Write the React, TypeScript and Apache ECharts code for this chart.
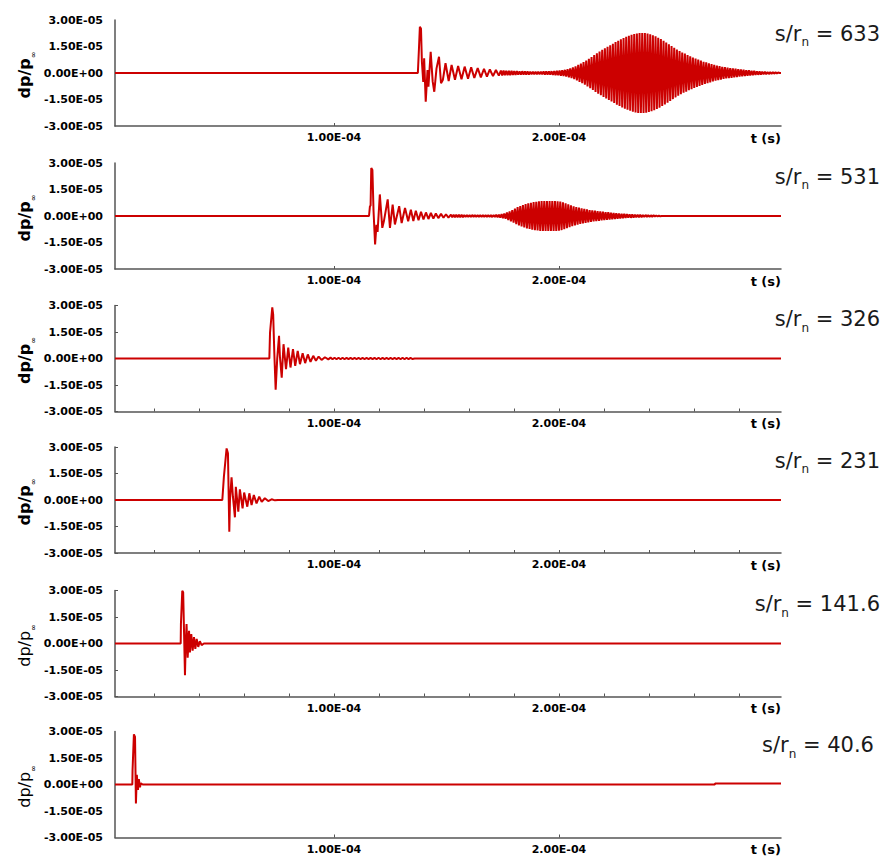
import React, { useEffect, useRef } from "react";
import * as echarts from "echarts";

// ---------- data (time in microseconds, dp/p in units of 1e-5) ----------
const yTickLabels = ["-3.00E-05", "-1.50E-05", "0.00E+00", "1.50E-05", "3.00E-05"];
const xLabelValues = [1e-4, 2e-4];
const xTickLabels = ["1.00E-04", "2.00E-04"];
const xMinorTickValues = [2e-5, 4e-5, 6e-5, 8e-5, 1e-4, 1.2e-4, 1.4e-4, 1.6e-4, 1.8e-4, 2e-4, 2.2e-4, 2.4e-4, 2.6e-4, 2.8e-4];
const panelLabels = ["633", "531", "326", "231", "141.6", "40.6"];
const T_MIN_US = 2.7;
const T_MAX_US = 298.7;

const p1Burst: [number, number][] = [
  [137.3, 0], [137.8, 1.4], [138.2, 2.62], [138.7, 2.5], [139.1, 0.64], [139.7, -0.5], [140.1, 0.83],
  [140.8, -1.62], [141.6, 0.17], [142.0, -0.77], [143.0, 1.2], [143.9, -0.49], [144.6, -1.06], [145.6, 0.26],
  [146.7, 0.92], [147.6, -0.58], [148.4, -0.4], [149.6, 0.55], [151.0, -0.45], [152.3, 0.45], [153.8, -0.38],
  [155.2, 0.4], [156.7, -0.36], [158.1, 0.36], [159.6, -0.32], [161.0, 0.32], [162.4, -0.28], [163.9, 0.28],
  [165.3, -0.25], [166.7, 0.24], [168.0, -0.21], [169.3, 0.2], [170.7, -0.18], [172.0, 0.17], [173.3, -0.15],
];
const p1TailStart = 174.2;
const p1TailStep = 0.5926;
const p1Tail = [
  0.14, -0.14, 0.14, -0.13, 0.13, -0.13, 0.12, -0.12, 0.12, -0.11,
  0.11, -0.11, 0.11, -0.1, 0.1, -0.1, 0.1, -0.09, 0.09, -0.09,
  0.09, -0.09, 0.08, -0.08, 0.08, -0.08, 0.08, -0.08, 0.08, -0.08,
  0.08, -0.08, 0.09, -0.09, 0.09, -0.09, 0.09, -0.09, 0.1, -0.11,
  0.11, -0.12, 0.12, -0.13, 0.14, -0.15, 0.16, -0.17, 0.18, -0.2,
  0.22, -0.24, 0.26, -0.29, 0.32, -0.35, 0.38, -0.42, 0.46, -0.5,
  0.53, -0.57, 0.62, -0.66, 0.71, -0.76, 0.8, -0.86, 0.91, -0.96,
  1.01, -1.07, 1.12, -1.17, 1.22, -1.26, 1.31, -1.36, 1.4, -1.44,
  1.49, -1.53, 1.57, -1.61, 1.66, -1.7, 1.75, -1.79, 1.83, -1.87,
  1.91, -1.95, 1.98, -2.02, 2.05, -2.08, 2.11, -2.14, 2.16, -2.19,
  2.21, -2.23, 2.24, -2.26, 2.27, -2.27, 2.27, -2.27, 2.26, -2.25,
  2.23, -2.21, 2.19, -2.17, 2.14, -2.11, 2.08, -2.04, 2.0, -1.96,
  1.92, -1.87, 1.83, -1.78, 1.73, -1.68, 1.63, -1.58, 1.53, -1.48,
  1.43, -1.38, 1.33, -1.29, 1.24, -1.2, 1.16, -1.12, 1.1, -1.06,
  1.02, -0.98, 0.95, -0.92, 0.88, -0.85, 0.82, -0.79, 0.76, -0.73,
  0.7, -0.67, 0.64, -0.62, 0.6, -0.57, 0.55, -0.53, 0.51, -0.48,
  0.46, -0.44, 0.42, -0.4, 0.39, -0.37, 0.35, -0.34, 0.33, -0.31,
  0.3, -0.29, 0.28, -0.27, 0.26, -0.25, 0.24, -0.23, 0.22, -0.2,
  0.2, -0.19, 0.18, -0.17, 0.16, -0.15, 0.15, -0.14, 0.13, -0.12,
  0.12, -0.11, 0.1, -0.1, 0.09, -0.09, 0.08, -0.08, 0.07, -0.07,
  0.06, -0.06, 0.05, -0.05, 0.05, -0.04, 0.04, -0.03, 0.03,
];

const p2Burst: [number, number][] = [
  [115.6, 0], [116.0, 0.55], [116.3, 0.6], [116.6, 2.72], [117.1, 2.6], [117.6, 0.3], [118.3, -1.61], [118.9, -0.5],
  [119.4, -0.9], [120.4, 1.22], [121.5, -0.67], [122.2, -0.3], [123.9, 0.94], [124.9, -0.67], [126.1, 0.65],
  [127.1, -0.48], [129.0, 0.56], [130.1, -0.4], [131.6, 0.45], [133.0, -0.3], [134.2, 0.35], [135.3, -0.28],
  [136.4, 0.3], [137.6, -0.24], [138.7, 0.24], [139.8, -0.2], [140.9, 0.2], [142.0, -0.17], [143.1, 0.17],
  [144.2, -0.15], [145.3, 0.14], [146.4, -0.12], [147.6, 0.12], [148.7, -0.1], [149.8, 0.1], [150.9, -0.09],
];
const p2TailStart = 152.0;
const p2TailStep = 0.5926;
const p2Tail = [
  0.08, -0.08, 0.08, -0.08, 0.07, -0.07, 0.07, -0.07, 0.07, -0.07,
  0.06, -0.06, 0.06, -0.06, 0.06, -0.06, 0.06, -0.05, 0.05, -0.05,
  0.05, -0.05, 0.05, -0.05, 0.05, -0.05, 0.05, -0.05, 0.05, -0.05,
  0.05, -0.06, 0.06, -0.06, 0.07, -0.08, 0.08, -0.09, 0.11, -0.12,
  0.14, -0.16, 0.2, -0.23, 0.26, -0.3, 0.34, -0.38, 0.42, -0.46,
  0.5, -0.53, 0.56, -0.59, 0.62, -0.65, 0.67, -0.7, 0.72, -0.74,
  0.75, -0.77, 0.79, -0.8, 0.81, -0.82, 0.83, -0.84, 0.84, -0.84,
  0.85, -0.85, 0.85, -0.85, 0.85, -0.85, 0.85, -0.84, 0.84, -0.84,
  0.83, -0.83, 0.82, -0.8, 0.77, -0.75, 0.72, -0.69, 0.66, -0.64,
  0.61, -0.58, 0.55, -0.53, 0.51, -0.49, 0.47, -0.45, 0.44, -0.42,
  0.4, -0.39, 0.37, -0.36, 0.34, -0.33, 0.32, -0.31, 0.3, -0.29,
  0.28, -0.27, 0.26, -0.25, 0.24, -0.23, 0.22, -0.22, 0.21, -0.2,
  0.19, -0.18, 0.17, -0.17, 0.16, -0.15, 0.14, -0.14, 0.13, -0.12,
  0.12, -0.11, 0.11, -0.1, 0.1, -0.1, 0.09, -0.09, 0.08, -0.08,
  0.08, -0.07, 0.07, -0.07, 0.06, -0.06, 0.06, -0.05, 0.05, -0.05,
  0.04, -0.04, 0.04, -0.03, 0.03, -0.03, 0.02, -0.02,
];

const p3Burst: [number, number][] = [
  [71.3, 0], [71.6, 1.47], [72.6, 2.89], [73.0, 2.5], [73.5, 0.34], [74.1, -1.77], [74.8, 0], [75.6, 1.28], [76.0, 0.1],
  [76.8, -1.08], [77.6, 0.81], [78.7, -0.6], [79.7, 0.62], [80.7, -0.51], [81.8, 0.53], [82.8, -0.42], [83.9, 0.43],
  [84.9, -0.32], [86.1, 0.3], [87.2, -0.26], [88.4, 0.23], [89.6, -0.19], [90.8, 0.15], [92.0, -0.13], [93.2, 0.11],
  [94.5, -0.08], [96.0, 0.07], [97.5, -0.05],
];
const p3TailStart = 98.5;
const p3TailStep = 0.889;
const p3Tail = [
  0.05, -0.04, 0.04, -0.04, 0.04, -0.04, 0.04, -0.04, 0.04, -0.03, 0.04, -0.03, 0.03, -0.03, 0.03, -0.03, 0.03, -0.03, 0.03, -0.03,
  0.04, -0.03, 0.04, -0.04, 0.04, -0.04, 0.04, -0.03, 0.03, -0.03, 0.03, -0.03, 0.03, -0.03, 0.04, -0.04, 0.04, -0.04, 0.04, -0.04,
  0.03, -0.03,
];

const p4Burst: [number, number][] = [
  [50.4, 0], [51.1, 1.32], [52.3, 2.92], [52.9, 2.64], [53.5, -1.79], [53.8, 0], [54.5, 1.28], [55.1, 0.2], [56.0, -0.98],
  [56.4, 0.75], [57.5, -0.66], [58.2, 0.6], [59.4, -0.47], [60.1, 0.42], [61.5, -0.38], [62.4, 0.38], [63.4, -0.28],
  [64.4, 0.28], [65.6, -0.19], [66.8, 0.19], [67.9, -0.11], [69.3, 0.1], [70.8, -0.06], [72.3, 0.04], [73.8, -0.02], [75.1, 0],
];

const p5Burst: [number, number][] = [
  [31.9, 0], [32.0, 1.1], [32.6, 2.98], [33.0, 2.9], [33.8, -1.79], [34.1, -0.2], [34.5, 1.1], [35.0, -0.8], [35.6, 0.72],
  [36.0, -0.5], [36.6, 0.53], [37.2, -0.4], [37.8, 0.36], [38.4, -0.3], [39.0, 0.26], [39.7, -0.19], [40.4, 0.13],
  [41.2, -0.09], [42.2, 0],
];

const p6Burst: [number, number][] = [
  [10.4, 0], [10.5, 0.8], [11.1, 2.84], [11.6, 2.7], [12.0, -1.08], [12.3, 0.1], [12.4, 0.55], [12.9, -0.3], [13.3, 0.3],
  [13.8, -0.15], [14.2, 0.07], [15.0, 0],
];
const p6Late: [number, number][] = [[269.3, 0], [269.4, 0.06], [298.7, 0.06]];

// ---------- layout / style ----------
const PANEL_TOPS = [20, 163, 305.5, 447, 590.5, 731.5];
const PANEL_H = 106;
const GRID_LEFT = 115;
const GRID_W = 666;
const LINE_RED = "#cc0000";
const AXIS_GRAY = "#555555";
const FONT = "DejaVu Sans";

type Panel = {
  burst: [number, number][];
  tailStart: number;
  tailStep: number;
  tail: number[];
  late: [number, number][];
  minorTicks: boolean;
  nameBold: boolean;
  labelRight: number;
};

const panels: Panel[] = [
  { burst: p1Burst, tailStart: p1TailStart, tailStep: p1TailStep, tail: p1Tail, late: [], minorTicks: false, nameBold: true, labelRight: 880 },
  { burst: p2Burst, tailStart: p2TailStart, tailStep: p2TailStep, tail: p2Tail, late: [], minorTicks: false, nameBold: true, labelRight: 880 },
  { burst: p3Burst, tailStart: p3TailStart, tailStep: p3TailStep, tail: p3Tail, late: [], minorTicks: true, nameBold: true, labelRight: 880 },
  { burst: p4Burst, tailStart: 0, tailStep: 1, tail: [], late: [], minorTicks: true, nameBold: true, labelRight: 880 },
  { burst: p5Burst, tailStart: 0, tailStep: 1, tail: [], late: [], minorTicks: true, nameBold: false, labelRight: 880 },
  { burst: p6Burst, tailStart: 0, tailStep: 1, tail: [], late: p6Late, minorTicks: false, nameBold: false, labelRight: 874 },
];

function buildPoints(p: Panel): [number, number][] {
  const pts: [number, number][] = [[T_MIN_US, 0], ...p.burst];
  p.tail.forEach((v, i) => pts.push([p.tailStart + i * p.tailStep, v]));
  if (p.tail.length) pts.push([p.tailStart + p.tail.length * p.tailStep, 0]);
  p.late.forEach((q) => pts.push(q));
  if (pts[pts.length - 1][0] < T_MAX_US) pts.push([T_MAX_US, 0]);
  return pts.map(([t, v]) => [t * 1e-6, v * 1e-5]);
}

function buildOption(): echarts.EChartsOption {
  const grid: any[] = [];
  const xAxis: any[] = [];
  const yAxis: any[] = [];
  const series: any[] = [];
  const graphic: any[] = [];

  panels.forEach((p, i) => {
    const top = PANEL_TOPS[i];
    grid.push({ left: GRID_LEFT, top, width: GRID_W, height: PANEL_H, containLabel: false });
    xAxis.push({
      type: "value",
      gridIndex: i,
      min: T_MIN_US * 1e-6,
      max: T_MAX_US * 1e-6,
      splitLine: { show: false },
      axisLine: { show: true, onZero: false, lineStyle: { color: AXIS_GRAY, width: 1.5 } },
      axisTick: {
        show: true,
        inside: true,
        length: 3,
        customValues: p.minorTicks ? xMinorTickValues : xLabelValues,
        lineStyle: { color: AXIS_GRAY, width: 1 },
      },
      axisLabel: {
        customValues: xLabelValues,
        formatter: (v: number) => xTickLabels[Math.round(v / 1e-4) - 1] ?? "",
        margin: 6,
        fontFamily: FONT,
        fontWeight: "bold",
        fontSize: 11,
        color: "#000",
      },
    });
    yAxis.push({
      type: "value",
      gridIndex: i,
      min: -3e-5,
      max: 3e-5,
      interval: 1.5e-5,
      splitLine: { show: false },
      axisLine: { show: true, lineStyle: { color: AXIS_GRAY, width: 1.5 } },
      axisTick: { show: p.minorTicks, inside: true, length: 3, lineStyle: { color: AXIS_GRAY, width: 1 } },
      axisLabel: {
        formatter: (v: number) => yTickLabels[Math.round(v / 1.5e-5) + 2] ?? "",
        margin: 12,
        fontFamily: FONT,
        fontWeight: "bold",
        fontSize: 11,
        color: "#000",
      },
    });
    series.push({
      type: "line",
      xAxisIndex: i,
      yAxisIndex: i,
      data: buildPoints(p),
      showSymbol: false,
      symbol: "none",
      silent: true,
      lineStyle: { color: LINE_RED, width: 2 },
    });

    // y-axis title dp/p∞
    graphic.push({
      type: "text",
      x: 26,
      y: top + 55,
      rotation: Math.PI / 2,
      silent: true,
      style: {
        text: "{m|dp/p}{s|∞}",
        align: "center",
        verticalAlign: "middle",
        fill: "#000",
        rich: {
          m: { fontFamily: FONT, fontSize: 16, fontWeight: p.nameBold ? "bold" : "normal", lineHeight: 20, verticalAlign: "top", fill: "#000" },
          s: { fontFamily: FONT, fontSize: 8, lineHeight: 8, verticalAlign: "top", padding: [13, 0, 0, 0], fill: "#000" },
        },
      },
    });
    // x-axis title
    graphic.push({
      type: "text",
      x: GRID_LEFT + GRID_W,
      y: top + PANEL_H + 12,
      silent: true,
      style: { text: "t (s)", fontFamily: FONT, fontSize: 13, fontWeight: "bold", fill: "#000", align: "right", verticalAlign: "middle" },
    });
    // s/r_n label
    graphic.push({
      type: "text",
      x: p.labelRight,
      y: top + 15,
      silent: true,
      style: {
        text: "{m|s/r}{sub|n}{m| = " + panelLabels[i] + "}",
        align: "right",
        verticalAlign: "middle",
        fill: "#1a1a1a",
        rich: {
          m: { fontFamily: FONT, fontSize: 21, lineHeight: 24, verticalAlign: "top", fill: "#1a1a1a" },
          sub: { fontFamily: FONT, fontSize: 12, lineHeight: 12, verticalAlign: "top", padding: [13, 0, 0, 0], fill: "#1a1a1a" },
        },
      },
    });
  });

  return { animation: false, backgroundColor: "#ffffff", grid, xAxis, yAxis, series, graphic };
}

export default function App() {
  const ref = useRef<HTMLDivElement>(null);
  useEffect(() => {
    if (!ref.current) return;
    const chart = echarts.init(ref.current, undefined, { renderer: "svg" });
    chart.setOption(buildOption());
    return () => chart.dispose();
  }, []);
  return (
    <div
      ref={ref}
      style={{ position: "fixed", left: 0, top: 0, width: 883, height: 856, background: "#fff" }}
    />
  );
}
